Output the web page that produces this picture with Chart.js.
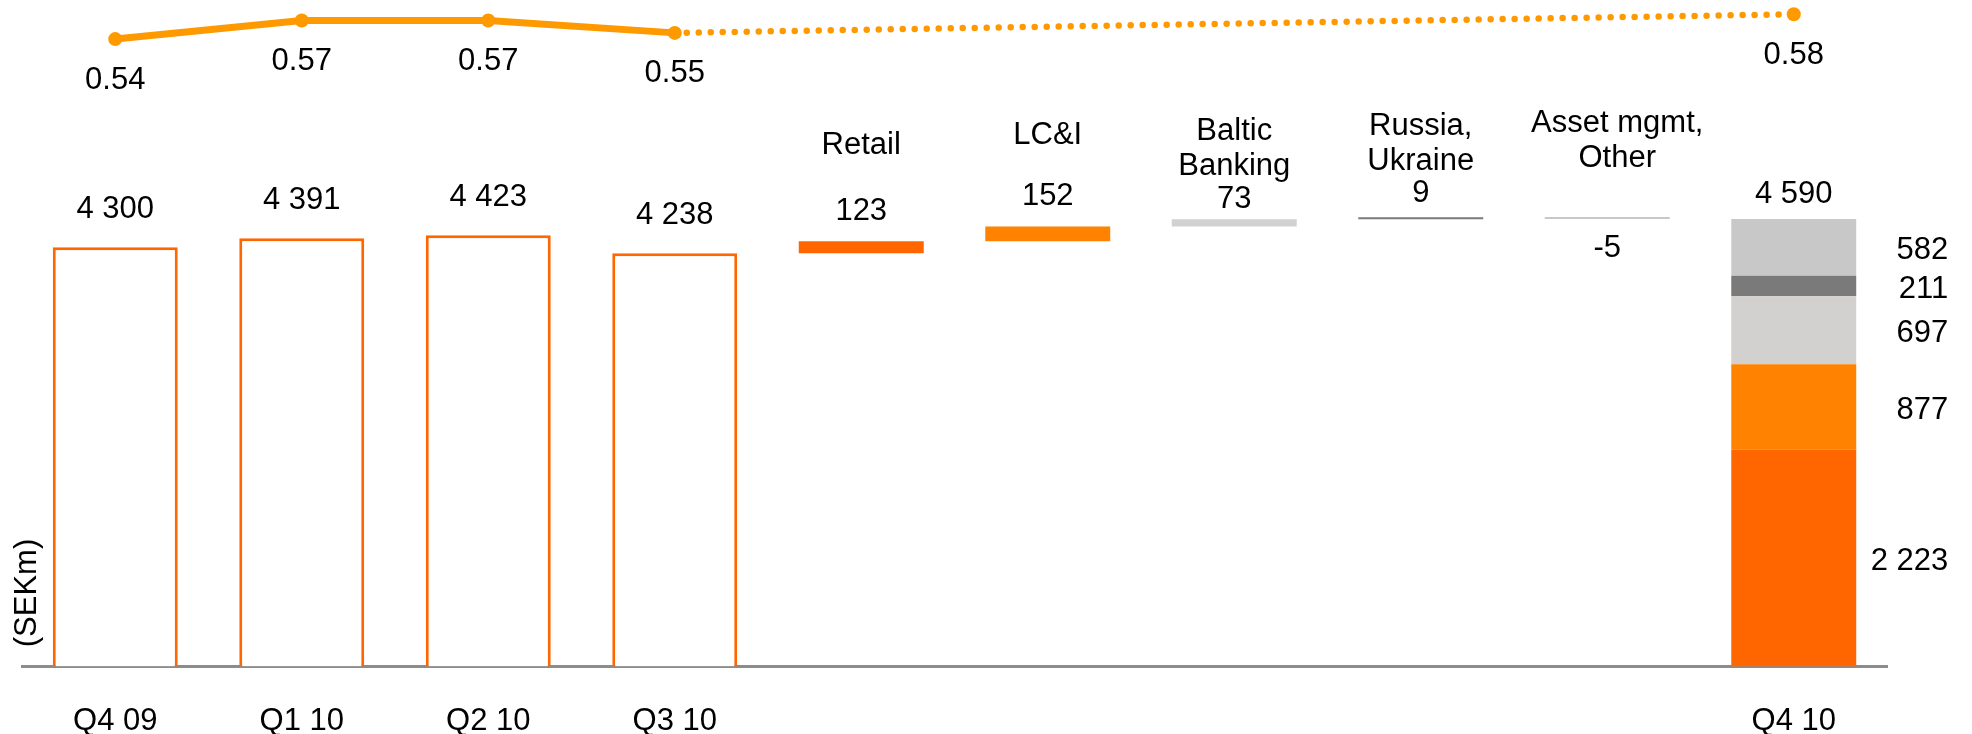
<!DOCTYPE html>
<html>
<head>
<meta charset="utf-8">
<script src="https://cdn.jsdelivr.net/npm/chart.js@4.4.1/dist/chart.umd.min.js"></script>
<style>
  html, body { margin: 0; padding: 0; background: #fff; }
  #chart { display: block; }
</style>
</head>
<body>
<canvas id="chart" width="1972" height="734"></canvas>
<script>
// ---- data (SEKm) ----
const categories = ['Q4 09', 'Q1 10', 'Q2 10', 'Q3 10', 'Retail', 'LC&I', 'Baltic Banking', 'Russia, Ukraine', 'Asset mgmt, Other', 'Q4 10'];
const tickLabels = ['Q4 09', 'Q1 10', 'Q2 10', 'Q3 10', '', '', '', '', '', 'Q4 10'];
const quarterTotals = [4300, 4391, 4423, 4238];
const q4Total = 4590;
const segmentNames = [['Retail'], ['LC&I'], ['Baltic', 'Banking'], ['Russia,', 'Ukraine'], ['Asset mgmt,', 'Other']];
const segmentChanges = [123, 152, 73, 9, -5];
const q4Segments = [2223, 877, 697, 211, 582];
const costIncome = [0.54, 0.57, 0.57, 0.55, null, null, null, null, null, 0.58];

// ---- styles ----
const FONT = '"Liberation Sans", Arial, Helvetica, sans-serif';
const segmentColors = ['#ff6600', '#ff8200', '#d2d1cf', '#7a7a7a', '#c8c8c8'];
const lineColor = '#ff9900';
// label offsets (px) from the top of each bridge bar: value label, last line of the name
const bridgeLabelLayout = [
  { value: -30, name: -96, dx: 0 },
  { value: -30, name: -91, dx: 0 },
  { value: -20, name: -53, dx: 0 },
  { value: -24, name: -56, dx: 0 },
  { value: 31, name: -59, dx: 10 }
];

const fmt = n => String(n).replace(/\B(?=(\d{3})+(?!\d))/g, ' ');
const nCat = categories.length;
const blank = () => new Array(nCat).fill(null);

// quarterly totals as outlined bars
const quarterData = blank();
quarterTotals.forEach((v, i) => { quarterData[i] = v; });

// bridge Q3 10 -> Q4 10 as floating bars
const bridgeData = blank();
const bridgeColors = blank().map(() => 'rgba(0,0,0,0)');
let level = quarterTotals[quarterTotals.length - 1];
segmentChanges.forEach((d, i) => {
  bridgeData[4 + i] = [level, level + d];
  bridgeColors[4 + i] = segmentColors[i];
  level += d;
});

// Q4 10 split by segment
const segmentDatasets = q4Segments.map((v, i) => {
  const d = blank();
  d[nCat - 1] = v;
  return {
    type: 'bar',
    label: segmentNames[i].join(' '),
    data: d,
    backgroundColor: segmentColors[i],
    borderWidth: 0,
    yAxisID: 'y',
    order: 2
  };
});

// dotted style for the part of the line that spans the gap
const skipped = (ctx, value) => (ctx.p0.skip || ctx.p1.skip) ? value : undefined;

const labelPlugin = {
  id: 'valueLabels',
  afterDraw(chart) {
    const ctx = chart.ctx;
    ctx.save();
    ctx.fillStyle = '#000';
    ctx.font = '31px ' + FONT;
    ctx.textAlign = 'center';
    ctx.textBaseline = 'middle';

    // quarterly totals
    const qMeta = chart.getDatasetMeta(0);
    quarterTotals.forEach((v, i) => {
      const el = qMeta.data[i];
      ctx.fillText(fmt(v), el.x, el.y - 38);
    });

    // bridge values and segment names
    const bMeta = chart.getDatasetMeta(1);
    segmentChanges.forEach((d, i) => {
      const el = bMeta.data[4 + i];
      const top = Math.min(el.y, el.base);
      const lay = bridgeLabelLayout[i];
      ctx.fillText(String(d), el.x, top + lay.value);
      const lines = segmentNames[i];
      lines.forEach((t, k) => {
        ctx.fillText(t, el.x + lay.dx, top + lay.name - (lines.length - 1 - k) * 35);
      });
    });

    // Q4 10 total and segment values
    let stackTop = Infinity, stackX = 0, stackRight = 0;
    segmentDatasets.forEach((ds, i) => {
      const el = chart.getDatasetMeta(2 + i).data[nCat - 1];
      stackTop = Math.min(stackTop, el.y);
      stackX = el.x;
      stackRight = el.x + el.width / 2;
    });
    ctx.fillText(fmt(q4Total), stackX, stackTop - 25);
    ctx.textAlign = 'right';
    q4Segments.forEach((v, i) => {
      const el = chart.getDatasetMeta(2 + i).data[nCat - 1];
      ctx.fillText(fmt(v), stackRight + 92, (el.y + el.base) / 2 + 3);
    });

    // cost/income values under the line points
    ctx.textAlign = 'center';
    const lMeta = chart.getDatasetMeta(chart.data.datasets.length - 1);
    costIncome.forEach((v, i) => {
      if (v === null) return;
      const p = lMeta.data[i];
      ctx.fillText(v.toFixed(2), p.x, p.y + 41);
    });

    // unit note
    ctx.translate(27, 593);
    ctx.rotate(-Math.PI / 2);
    ctx.fillText('(SEKm)', 0, 0);
    ctx.restore();
  }
};

new Chart(document.getElementById('chart'), {
  data: {
    labels: categories,
    datasets: [
      {
        type: 'bar',
        label: 'Quarter',
        data: quarterData,
        backgroundColor: '#ffffff',
        borderColor: '#ff6600',
        borderWidth: 3,
        borderSkipped: 'bottom',
        yAxisID: 'y',
        order: 2
      },
      {
        type: 'bar',
        label: 'Change by segment',
        data: bridgeData,
        backgroundColor: bridgeColors,
        borderWidth: 0,
        minBarLength: 2,
        yAxisID: 'y',
        order: 2
      },
      ...segmentDatasets,
      {
        type: 'line',
        label: 'Cost/income',
        data: costIncome,
        yAxisID: 'y2',
        borderColor: lineColor,
        backgroundColor: lineColor,
        borderWidth: 7,
        pointRadius: 7,
        pointBorderWidth: 0,
        pointBackgroundColor: lineColor,
        spanGaps: true,
        tension: 0,
        clip: false,
        order: 1,
        segment: {
          borderDash: ctx => skipped(ctx, [0, 12]),
          borderCapStyle: ctx => skipped(ctx, 'round'),
          borderWidth: ctx => skipped(ctx, 6.5)
        }
      }
    ]
  },
  options: {
    responsive: false,
    animation: false,
    layout: { padding: { left: 22, right: 85, top: 0, bottom: 0 } },
    datasets: { bar: { barPercentage: 0.67, categoryPercentage: 1 } },
    plugins: { legend: { display: false }, tooltip: { enabled: false } },
    scales: {
      x: {
        type: 'category',
        stacked: true,
        z: 1,
        grid: { display: false, drawTicks: false },
        border: { display: true, color: '#8c8c8c', width: 3 },
        ticks: {
          autoSkip: false,
          maxRotation: 0,
          padding: 36,
          color: '#000',
          font: { family: FONT, size: 31 },
          callback: (val, i) => tickLabels[i]
        },
        afterFit: scale => { scale.height = 67.5; }
      },
      y: {
        display: false,
        stacked: true,
        min: 0,
        max: 6764
      },
      y2: {
        display: false,
        min: -0.471,
        max: 0.5917
      }
    }
  },
  plugins: [labelPlugin]
});
</script>
</body>
</html>
